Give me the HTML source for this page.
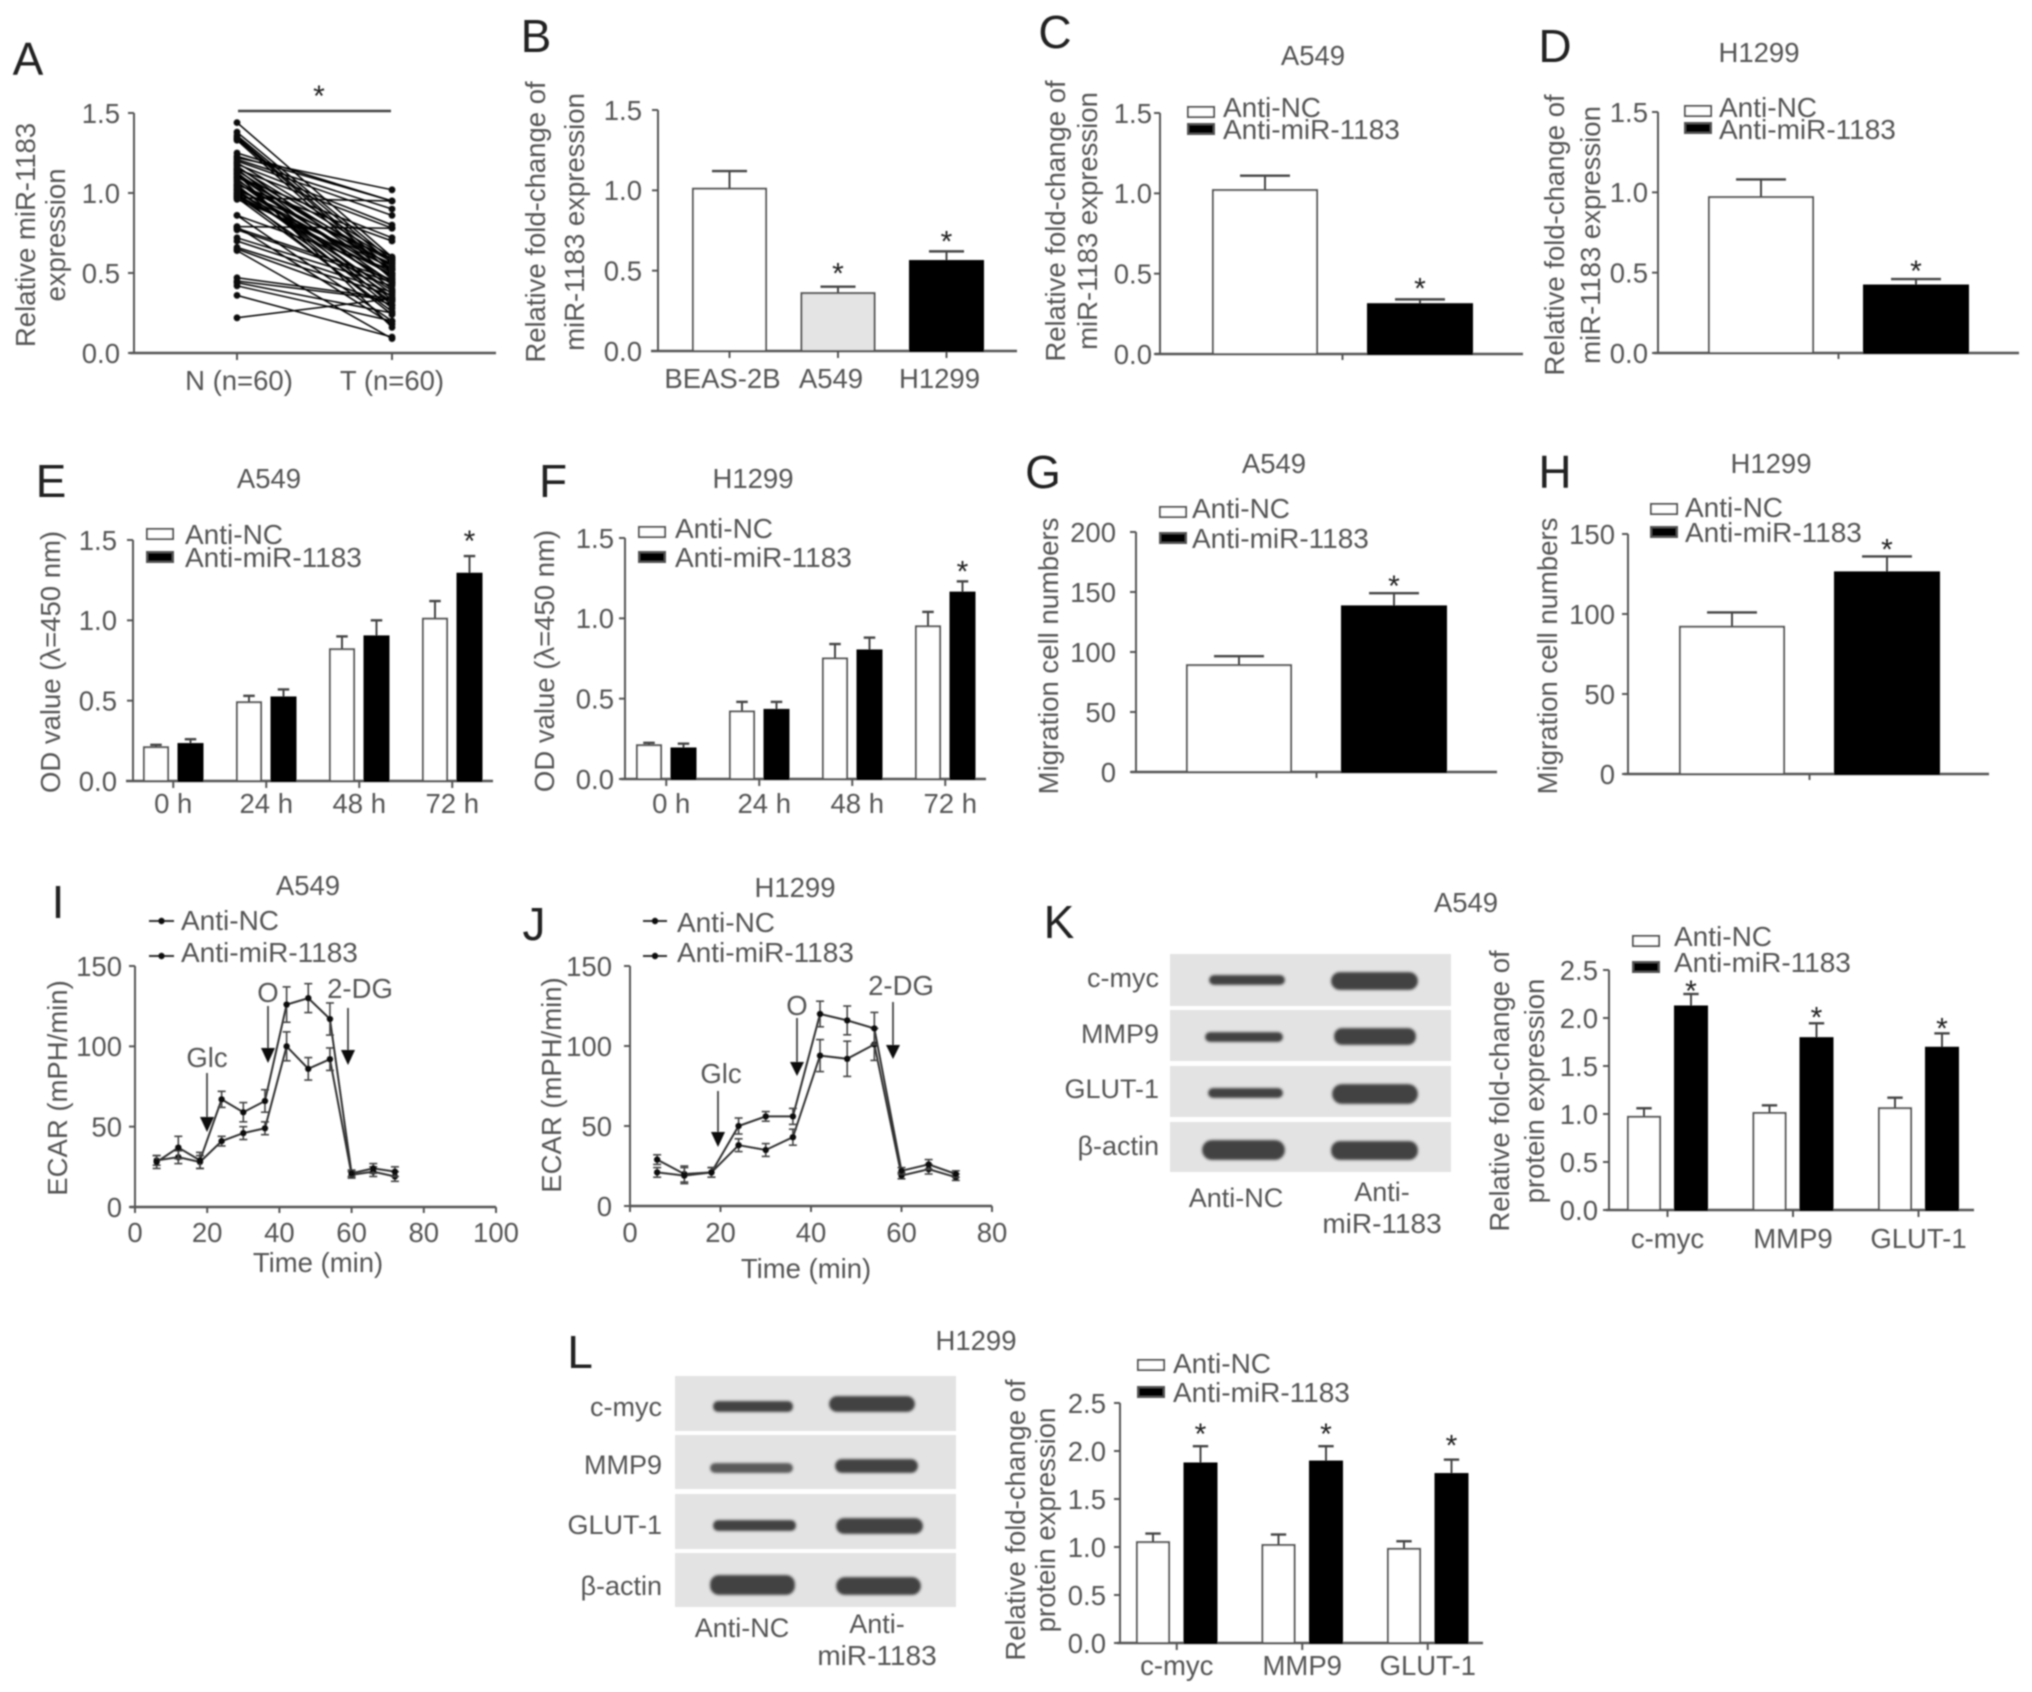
<!DOCTYPE html>
<html lang="en">
<head>
<meta charset="utf-8">
<title>miR-1183 expression figure</title>
<style>
html,body{margin:0;padding:0;background:#fff;}
svg{display:block;font-family:"Liberation Sans",sans-serif;}
</style>
</head>
<body>
<svg id="figure" xmlns="http://www.w3.org/2000/svg" width="2032" height="1692" viewBox="0 0 2032 1692">
  <defs>
    <filter id="soft" x="-2%" y="-2%" width="104%" height="104%"><feGaussianBlur stdDeviation="0.9"/></filter>
    <filter id="band" x="-20%" y="-60%" width="140%" height="220%"><feGaussianBlur stdDeviation="1.2"/></filter>
  </defs>
  <rect width="2032" height="1692" fill="#fff"/>
  <g id="root" filter="url(#soft)">
    <g fill="#e3e3e3">
      <rect x="1170" y="954" width="281" height="52"/>
      <rect x="1170" y="1010" width="281" height="51"/>
      <rect x="1170" y="1066" width="281" height="51"/>
      <rect x="1170" y="1122" width="281" height="50"/>
    </g>
    <g fill="#434343" filter="url(#band)">
      <rect x="1209" y="975" width="76" height="10" rx="5"/>
      <rect x="1331" y="972" width="87" height="18" rx="9"/>
      <rect x="1205" y="1032" width="78" height="10" rx="5"/>
      <rect x="1334" y="1028" width="82" height="17" rx="8"/>
      <rect x="1208" y="1088" width="75" height="10" rx="5"/>
      <rect x="1332" y="1084" width="86" height="20" rx="10"/>
      <rect x="1202" y="1140" width="83" height="20" rx="10"/>
      <rect x="1331" y="1141" width="87" height="19" rx="9"/>
    </g>
    <g font-size="27" fill="#555">
      <text x="1159" y="987" text-anchor="end">c-myc</text>
      <text x="1159" y="1043" text-anchor="end">MMP9</text>
      <text x="1159" y="1098" text-anchor="end">GLUT-1</text>
      <text x="1159" y="1155" text-anchor="end">β-actin</text>
      <text x="1236" y="1207" text-anchor="middle">Anti-NC</text>
      <text x="1382" y="1201" text-anchor="middle">Anti-</text>
      <text x="1382" y="1233" text-anchor="middle" font-size="28">miR-1183</text>
    </g>
    <g fill="#e3e3e3">
      <rect x="675" y="1376" width="281" height="55"/>
      <rect x="675" y="1435" width="281" height="54"/>
      <rect x="675" y="1494" width="281" height="55"/>
      <rect x="675" y="1553" width="281" height="54"/>
    </g>
    <g fill="#434343" filter="url(#band)">
      <rect x="713" y="1401" width="80" height="11" rx="5"/>
      <rect x="829" y="1396" width="86" height="16" rx="8"/>
      <rect x="710" y="1463" width="83" height="10" rx="5" fill="#5a5a5a"/>
      <rect x="835" y="1459" width="83" height="14" rx="7"/>
      <rect x="713" y="1520" width="83" height="11" rx="5"/>
      <rect x="836" y="1518" width="87" height="16" rx="8"/>
      <rect x="710" y="1575" width="85" height="20" rx="9"/>
      <rect x="836" y="1577" width="85" height="18" rx="9"/>
    </g>
    <g font-size="27" fill="#555">
      <text x="662" y="1416" text-anchor="end">c-myc</text>
      <text x="662" y="1474" text-anchor="end">MMP9</text>
      <text x="662" y="1534" text-anchor="end">GLUT-1</text>
      <text x="662" y="1595" text-anchor="end">β-actin</text>
      <text x="742" y="1637" text-anchor="middle">Anti-NC</text>
      <text x="877" y="1633" text-anchor="middle">Anti-</text>
      <text x="877" y="1665" text-anchor="middle" font-size="28">miR-1183</text>
    </g>
  </g>
</svg>
<script>
// ---------- Panel A data ----------
const panelACategories = ['N (n=60)', 'T (n=60)'];
const panelANormal = [1.44,1.38,1.36,1.35,1.34,1.33,1.25,1.23,1.22,1.21,1.2,1.19,1.18,1.17,1.16,1.15,1.15,1.14,1.13,1.12,1.11,1.1,1.1,1.09,1.08,1.07,1.06,1.05,1.05,1.04,1.03,1.02,1.02,1.01,1.0,1.0,.99,.98,.98,.97,.97,.96,.86,.86,.79,.79,.78,.77,.72,.70,.66,.65,.64,.47,.45,.44,.42,.36,.22,1.12];
const panelATumor = [.60,.58,.56,.52,.50,.46,.95,.95,1.02,.90,.86,.60,.80,.47,.58,.78,.40,.54,.33,.52,.44,.72,.57,.30,.48,.37,.55,.28,.70,.43,.50,.35,.59,.39,.24,.53,.45,.32,.49,.26,.95,.56,.52,.20,.78,.18,.46,.44,.42,.38,.36,.30,.09,.34,.33,.25,.2,.1,.34,.16];
const fractionTicks = [0, 0.5, 1, 1.5];
const fractionTickLabels = ['0.0', '0.5', '1.0', '1.5'];
const proteinTicks = [0, 0.5, 1, 1.5, 2, 2.5];
const proteinTickLabels = ['0.0', '0.5', '1.0', '1.5', '2.0', '2.5'];

// ---------- Panel B ----------
const panelBCategories = ['BEAS-2B', 'A549', 'H1299'];
const panelBValues = [1.01, 0.36, 0.56];
const panelBErrors = [0.11, 0.04, 0.06];
// ---------- Panel C ----------
const panelCValues = [1.02, 0.31];
const panelCErrors = [0.09, 0.03];
// ---------- Panel D ----------
const panelDValues = [0.97, 0.42];
const panelDErrors = [0.11, 0.04];
// ---------- Panels E, F ----------
const timeCategories = ['0 h', '24 h', '48 h', '72 h'];
const panelENC = [0.21, 0.49, 0.82, 1.01];
const panelENCErrors = [0.015, 0.04, 0.08, 0.11];
const panelEMir = [0.23, 0.52, 0.90, 1.29];
const panelEMirErrors = [0.03, 0.05, 0.10, 0.11];
const panelFNC = [0.21, 0.42, 0.75, 0.95];
const panelFNCErrors = [0.015, 0.06, 0.09, 0.09];
const panelFMir = [0.19, 0.43, 0.80, 1.16];
const panelFMirErrors = [0.03, 0.05, 0.08, 0.07];
// ---------- Panels G, H ----------
const panelGValues = [89, 138];
const panelGErrors = [7.5, 11];
const panelGTicks = [0, 50, 100, 150, 200];
const panelGTickLabels = ['0', '50', '100', '150', '200'];
const panelHValues = [92, 126];
const panelHErrors = [9, 10];
const panelHTicks = [0, 50, 100, 150];
const panelHTickLabels = ['0', '50', '100', '150'];
// ---------- Panels I, J ----------
const ecarTimes = [6, 12, 18, 24, 30, 36, 42, 48, 54, 60, 66, 72];
const ecarYTicks = [0, 50, 100, 150];
const panelINC = [29, 31, 28, 41, 46, 49, 100, 86, 92, 20, 22, 19];
const panelINCErrors = [3, 4, 4, 3, 4, 4, 9, 7, 7, 2, 3, 3];
const panelIMir = [28, 37, 29, 67, 59, 66, 126, 130, 117, 21, 24, 22];
const panelIMirErrors = [4, 7, 5, 5, 6, 7, 11, 9, 10, 2, 3, 3];
const panelIXTicks = [0, 20, 40, 60, 80, 100];
const panelJNC = [29, 20, 21, 38, 35, 43, 94, 92, 101, 19, 23, 18];
const panelJNCErrors = [3, 5, 3, 4, 4, 5, 10, 11, 10, 2, 3, 2];
const panelJMir = [21, 19, 21, 50, 56, 56, 120, 116, 111, 22, 26, 20];
const panelJMirErrors = [3, 5, 3, 5, 3, 5, 8, 9, 10, 2, 3, 2];
const panelJXTicks = [0, 20, 40, 60, 80];
// ---------- Panels K, L ----------
const proteinCategories = ['c-myc', 'MMP9', 'GLUT-1'];
const panelKNC = [0.97, 1.01, 1.06];
const panelKNCErrors = [0.09, 0.08, 0.11];
const panelKMir = [2.12, 1.79, 1.69];
const panelKMirErrors = [0.13, 0.155, 0.15];
const panelLNC = [1.05, 1.02, 0.98];
const panelLNCErrors = [0.09, 0.11, 0.08];
const panelLMir = [1.87, 1.89, 1.76];
const panelLMirErrors = [0.18, 0.16, 0.15];

const SVGNS = 'http://www.w3.org/2000/svg';
const root = document.getElementById('root');
const AXIS = '#555';
const TEXT = '#555';
const FONT = 27.5;

function shape(parent, tag, attrs, name) {
  const el = document.createElementNS(SVGNS, tag);
  for (const k in attrs) el.setAttribute(k, attrs[k]);
  
  
  parent.appendChild(el);
  return el;
}
function group(name) {
  const g = document.createElementNS(SVGNS, 'g');
  
  
  root.appendChild(g);
  return g;
}
function label(parent, str, x, yc, name, o) {
  o = o || {};
  const size = o.size || FONT;
  const off = size * 0.36;
  const attrs = {'font-size': size, fill: o.fill || TEXT, 'text-anchor': o.anchor || 'middle'};
  if (o.rotate) {
    attrs.x = x + off; attrs.y = yc;
    attrs.transform = 'rotate(-90 ' + (x + off) + ' ' + yc + ')';
  } else {
    attrs.x = x; attrs.y = yc + off;
  }
  const el = shape(parent, 'text', attrs, name);
  el.textContent = str;
  return el;
}
function panelLetter(str, x, capBottom) {
  const el = shape(root, 'text', {x: x, y: capBottom, 'font-size': 46, fill: '#222', 'text-anchor': 'middle'}, 'panel-letter-' + str.toLowerCase());
  el.textContent = str;
}
function star(parent, x, yc, name) {
  const el = shape(parent, 'text', {x: x, y: yc + 17, 'font-size': 30, fill: '#222', 'text-anchor': 'middle'}, name);
  el.textContent = '*';
}
function legendSwatch(g, x, yc, fill, text, textX, textY) {
  shape(g, 'rect', {x: x, y: yc - 5, width: 26, height: 10, fill: fill, stroke: '#555', 'stroke-width': 2}, 'legend-swatch-' + text.toLowerCase());
  label(g, text, textX, textY, 'legend-label-' + text.toLowerCase(), {anchor: 'start', size: 28});
}
function yAxis(g, p, yS) {
  shape(g, 'line', {x1: p.axisX, x2: p.axisX, y1: p.yTop, y2: p.y0, stroke: AXIS, 'stroke-width': 2}, 'y-axis-line');
  p.ticks.forEach(function (t, i) {
    shape(g, 'line', {x1: p.axisX - 6, x2: p.axisX, y1: yS(t), y2: yS(t), stroke: AXIS, 'stroke-width': 2}, 'y-tick');
    label(g, p.tickLabels[i], p.labelRight, yS(t), 'y-tick-label', {anchor: 'end'});
  });
  shape(g, 'line', {x1: p.xStart, x2: p.xEnd, y1: p.y0, y2: p.y0, stroke: AXIS, 'stroke-width': 2.4}, 'x-axis-line');
}
function yTitle(g, lines) {
  lines.forEach(function (l) {
    label(g, l[0], l[1], l[2], 'y-axis-title', {rotate: true});
  });
}

// Bar chart: series = [{values, errors, fills}]
function barPanel(p) {
  const g = group(p.name);
  const yS = function (v) { return p.y0 - v / p.max * (p.y0 - p.yTop); };
  const bx = function (i, j) { return p.barLeft + i * p.step + j * p.offset; };
  yAxis(g, p, yS);
  const n = p.series.length;
  const cats = p.series[0].values.length;
  const groupCenter = function (i) { return p.barLeft + i * p.step + (p.offset * (n - 1) + p.barWidth) / 2; };
  if (p.singleTick) {
    const mid = (groupCenter(0) + groupCenter(cats - 1)) / 2;
    shape(g, 'line', {x1: mid, x2: mid, y1: p.y0, y2: p.y0 + 6, stroke: AXIS, 'stroke-width': 2}, 'x-tick');
  } else {
    for (let i = 0; i < cats; i++) {
      shape(g, 'line', {x1: groupCenter(i), x2: groupCenter(i), y1: p.y0, y2: p.y0 + 7, stroke: AXIS, 'stroke-width': 2}, 'x-tick');
      label(g, p.categories[i], groupCenter(i) + (p.labelShift || 0), p.catY, 'x-tick-label');
    }
  }
  p.series.forEach(function (s, j) {
    s.values.forEach(function (v, i) {
      const cx = bx(i, j) + p.barWidth / 2;
      const top = yS(v + s.errors[i]);
      const cap = p.barWidth * 0.48;
      shape(g, 'line', {x1: cx, x2: cx, y1: yS(v), y2: top, stroke: '#444', 'stroke-width': 2}, 'error-bar');
      shape(g, 'line', {x1: cx - cap / 2, x2: cx + cap / 2, y1: top, y2: top, stroke: '#444', 'stroke-width': 2.4}, 'error-cap');
      shape(g, 'rect', {x: bx(i, j), y: yS(v), width: p.barWidth, height: p.y0 - yS(v), fill: s.fills[i], stroke: s.fills[i] === '#000' ? '#000' : '#555', 'stroke-width': 2}, 'bar');
    });
  });
  (p.stars || []).forEach(function (st) {
    const s = p.series[st[1]];
    star(g, bx(st[0], st[1]) + p.barWidth / 2, yS(s.values[st[0]] + s.errors[st[0]]) - st[2], 'significance-star');
  });
  if (p.title) label(g, p.title[0], p.title[1], p.title[2], 'panel-title');
  yTitle(g, p.yTitle);
  if (p.legend) {
    const L = p.legend;
    legendSwatch(g, L.swatchX, L.swatch1, '#fff', 'Anti-NC', L.textX, L.text1);
    legendSwatch(g, L.swatchX, L.swatch2, '#000', 'Anti-miR-1183', L.textX, L.text2);
  }
}

function arrow(g, str, textX, textY, x, yStart, yHead, yTip) {
  label(g, str, textX, textY, 'treatment-label');
  shape(g, 'line', {x1: x, x2: x, y1: yStart, y2: yHead, stroke: '#444', 'stroke-width': 1.8}, 'treatment-arrow-shaft');
  shape(g, 'polygon', {points: (x - 7) + ',' + yHead + ' ' + (x + 7) + ',' + yHead + ' ' + x + ',' + yTip, fill: '#111'}, 'treatment-arrow-head');
}

function linePanel(p) {
  const g = group(p.name);
  const yS = function (v) { return p.y0 - v / p.max * (p.y0 - p.yTop); };
  const xS = function (t) { return p.axisX + t * p.xUnit; };
  yAxis(g, p, yS);
  p.xTicks.forEach(function (t) {
    shape(g, 'line', {x1: xS(t), x2: xS(t), y1: p.y0, y2: p.y0 + 6, stroke: AXIS, 'stroke-width': 2}, 'x-tick');
    label(g, String(t), xS(t), p.catY, 'x-tick-label');
  });
  p.series.forEach(function (s) {
    const pts = ecarTimes.map(function (t, i) { return xS(t) + ',' + yS(s.values[i]); }).join(' ');
    shape(g, 'polyline', {points: pts, fill: 'none', stroke: '#333', 'stroke-width': 2}, 'series-line-' + s.id);
    ecarTimes.forEach(function (t, i) {
      const hi = yS(s.values[i] + s.errors[i]);
      const lo = yS(s.values[i] - s.errors[i]);
      shape(g, 'line', {x1: xS(t), x2: xS(t), y1: hi, y2: lo, stroke: '#444', 'stroke-width': 1.6}, 'error-bar');
      shape(g, 'line', {x1: xS(t) - 4, x2: xS(t) + 4, y1: hi, y2: hi, stroke: '#444', 'stroke-width': 1.6}, 'error-cap');
      shape(g, 'line', {x1: xS(t) - 4, x2: xS(t) + 4, y1: lo, y2: lo, stroke: '#444', 'stroke-width': 1.6}, 'error-cap');
      shape(g, 'circle', {cx: xS(t), cy: yS(s.values[i]), r: 3.2, fill: '#111'}, 'series-point-' + s.id);
    });
  });
  label(g, p.title[0], p.title[1], p.title[2], 'panel-title');
  label(g, 'Time (min)', p.xTitle[0], p.xTitle[1], 'x-axis-title');
  yTitle(g, p.yTitle);
  const L = p.legend;
  [['Anti-NC', L.y1, L.t1], ['Anti-miR-1183', L.y2, L.t2]].forEach(function (e) {
    shape(g, 'line', {x1: L.x1, x2: L.x2, y1: e[1], y2: e[1], stroke: '#333', 'stroke-width': 2}, 'legend-line');
    shape(g, 'circle', {cx: (L.x1 + L.x2) / 2, cy: e[1], r: 3.2, fill: '#111'}, 'legend-marker');
    label(g, e[0], L.textX, e[2], 'legend-label', {anchor: 'start', size: 28});
  });
  p.arrows.forEach(function (a) { arrow(g, a[0], a[1], a[2], a[3], a[4], a[5], a[6]); });
}

// Panel A: paired dot-and-line plot
(function () {
  const p = {axisX: 134, y0: 353, yTop: 113, max: 1.5, xStart: 130, xEnd: 496, labelRight: 120, ticks: fractionTicks, tickLabels: fractionTickLabels};
  const g = group('panel-a');
  const yS = function (v) { return p.y0 - v / p.max * (p.y0 - p.yTop); };
  const xS = function (i) { return 237 + i * 155; };
  yAxis(g, p, yS);
  panelACategories.forEach(function (c, i) {
    shape(g, 'line', {x1: xS(i), x2: xS(i), y1: p.y0, y2: p.y0 + 7, stroke: AXIS, 'stroke-width': 2}, 'x-tick');
    label(g, c, xS(i) + (i ? 0 : 2), 380, 'x-tick-label');
  });
  panelANormal.forEach(function (v, i) {
    shape(g, 'line', {x1: xS(0), x2: xS(1), y1: yS(v), y2: yS(panelATumor[i]), stroke: '#000', 'stroke-width': 1.5}, 'paired-line');
    shape(g, 'circle', {cx: xS(0), cy: yS(v), r: 3.4, fill: '#111'}, 'normal-point');
    shape(g, 'circle', {cx: xS(1), cy: yS(panelATumor[i]), r: 3.4, fill: '#111'}, 'tumor-point');
  });
  shape(g, 'line', {x1: 238, x2: 391, y1: 111, y2: 111, stroke: '#444', 'stroke-width': 2.4}, 'significance-bracket');
  star(g, 319, 89, 'significance-star');
  yTitle(g, [['Relative miR-1183', 25, 235], ['expression', 55, 235]]);
})();

barPanel({name: 'panel-b', axisX: 658, y0: 351, yTop: 110, max: 1.5, xStart: 651, xEnd: 1017, labelRight: 642,
  ticks: fractionTicks, tickLabels: fractionTickLabels, categories: panelBCategories, catY: 378, labelShift: -7,
  barLeft: 693, step: 108.5, offset: 0, barWidth: 73,
  series: [{values: panelBValues, errors: panelBErrors, fills: ['#fff', '#e4e4e4', '#000']}],
  stars: [[1, 0, 20], [2, 0, 17]],
  yTitle: [['Relative fold-change of', 535, 222], ['miR-1183 expression', 574, 222]]});

barPanel({name: 'panel-c', axisX: 1160, y0: 354, yTop: 113, max: 1.5, xStart: 1155, xEnd: 1523, labelRight: 1152,
  ticks: fractionTicks, tickLabels: fractionTickLabels, singleTick: true,
  barLeft: 1213, step: 155, offset: 0, barWidth: 104,
  series: [{values: panelCValues, errors: panelCErrors, fills: ['#fff', '#000']}],
  stars: [[1, 0, 18]], title: ['A549', 1313, 55],
  yTitle: [['Relative fold-change of', 1055, 221], ['miR-1183 expression', 1087, 221]],
  legend: {swatchX: 1188, swatch1: 112, swatch2: 129, textX: 1223, text1: 107, text2: 129}});

barPanel({name: 'panel-d', axisX: 1658, y0: 353, yTop: 112, max: 1.5, xStart: 1654, xEnd: 2019, labelRight: 1648,
  ticks: fractionTicks, tickLabels: fractionTickLabels, singleTick: true,
  barLeft: 1709, step: 155, offset: 0, barWidth: 104,
  series: [{values: panelDValues, errors: panelDErrors, fills: ['#fff', '#000']}],
  stars: [[1, 0, 15]], title: ['H1299', 1759, 52],
  yTitle: [['Relative fold-change of', 1554, 235], ['miR-1183 expression', 1590, 235]],
  legend: {swatchX: 1685, swatch1: 111, swatch2: 128, textX: 1719, text1: 107, text2: 129}});

barPanel({name: 'panel-e', axisX: 133, y0: 781, yTop: 540, max: 1.5, xStart: 126, xEnd: 493, labelRight: 117,
  ticks: fractionTicks, tickLabels: fractionTickLabels, categories: timeCategories, catY: 803,
  barLeft: 144, step: 93, offset: 34.5, barWidth: 24,
  series: [{values: panelENC, errors: panelENCErrors, fills: ['#fff', '#fff', '#fff', '#fff']},
           {values: panelEMir, errors: panelEMirErrors, fills: ['#000', '#000', '#000', '#000']}],
  stars: [[3, 1, 22]], title: ['A549', 269, 478],
  yTitle: [['OD value (λ=450 nm)', 50, 662]],
  legend: {swatchX: 147, swatch1: 534, swatch2: 557, textX: 185, text1: 534, text2: 557}});

barPanel({name: 'panel-f', axisX: 625, y0: 779, yTop: 538, max: 1.5, xStart: 621, xEnd: 986, labelRight: 614,
  ticks: fractionTicks, tickLabels: fractionTickLabels, categories: timeCategories, catY: 803, labelShift: 5,
  barLeft: 637, step: 93, offset: 34.5, barWidth: 24,
  series: [{values: panelFNC, errors: panelFNCErrors, fills: ['#fff', '#fff', '#fff', '#fff']},
           {values: panelFMir, errors: panelFMirErrors, fills: ['#000', '#000', '#000', '#000']}],
  stars: [[3, 1, 17]], title: ['H1299', 753, 478],
  yTitle: [['OD value (λ=450 nm)', 544, 661]],
  legend: {swatchX: 639, swatch1: 532, swatch2: 557, textX: 675, text1: 528, text2: 557}});

barPanel({name: 'panel-g', axisX: 1136, y0: 772, yTop: 532, max: 200, xStart: 1131, xEnd: 1497, labelRight: 1116,
  ticks: panelGTicks, tickLabels: panelGTickLabels, singleTick: true,
  barLeft: 1187, step: 155, offset: 0, barWidth: 104,
  series: [{values: panelGValues, errors: panelGErrors, fills: ['#fff', '#000']}],
  stars: [[1, 0, 14]], title: ['A549', 1274, 463],
  yTitle: [['Migration cell numbers', 1048, 656]],
  legend: {swatchX: 1160, swatch1: 512, swatch2: 538, textX: 1192, text1: 508, text2: 538}});

barPanel({name: 'panel-h', axisX: 1628, y0: 774, yTop: 534, max: 150, xStart: 1624, xEnd: 1989, labelRight: 1615,
  ticks: panelHTicks, tickLabels: panelHTickLabels, singleTick: true,
  barLeft: 1680, step: 155, offset: 0, barWidth: 104,
  series: [{values: panelHValues, errors: panelHErrors, fills: ['#fff', '#000']}],
  stars: [[1, 0, 14]], title: ['H1299', 1771, 463],
  yTitle: [['Migration cell numbers', 1547, 656]],
  legend: {swatchX: 1651, swatch1: 509, swatch2: 532, textX: 1685, text1: 507, text2: 532}});

linePanel({name: 'panel-i', axisX: 135, y0: 1207, yTop: 966, max: 150, xStart: 130, xEnd: 496, labelRight: 122,
  ticks: ecarYTicks, tickLabels: ecarYTicks.map(String), xUnit: 3.61, xTicks: panelIXTicks, catY: 1232,
  series: [{id: 'anti-nc', values: panelINC, errors: panelINCErrors}, {id: 'anti-mir-1183', values: panelIMir, errors: panelIMirErrors}],
  title: ['A549', 308, 885], xTitle: [318, 1262], yTitle: [['ECAR (mPH/min)', 57, 1088]],
  legend: {x1: 149, x2: 174, y1: 921, y2: 956, t1: 920, t2: 952, textX: 181},
  arrows: [['Glc', 207, 1057, 207, 1073, 1117, 1132], ['O', 268, 992, 268, 1006, 1048, 1063], ['2-DG', 360, 988, 348, 1008, 1050, 1065]]});

linePanel({name: 'panel-j', axisX: 630, y0: 1206, yTop: 966, max: 150, xStart: 630, xEnd: 992, labelRight: 612,
  ticks: ecarYTicks, tickLabels: ecarYTicks.map(String), xUnit: 4.525, xTicks: panelJXTicks, catY: 1232,
  series: [{id: 'anti-nc', values: panelJNC, errors: panelJNCErrors}, {id: 'anti-mir-1183', values: panelJMir, errors: panelJMirErrors}],
  title: ['H1299', 795, 887], xTitle: [806, 1268], yTitle: [['ECAR (mPH/min)', 551, 1085]],
  legend: {x1: 643, x2: 667, y1: 921, y2: 956, t1: 922, t2: 952, textX: 677},
  arrows: [['Glc', 721, 1073, 718, 1091, 1132, 1147], ['O', 797, 1005, 797, 1018, 1062, 1076], ['2-DG', 901, 985, 893, 1002, 1045, 1059]]});
label(root, 'A549', 1466, 902, 'panel-k-title');
label(root, 'H1299', 976, 1340, 'panel-l-title');

barPanel({name: 'panel-k-chart', axisX: 1609, y0: 1210, yTop: 970, max: 2.5, xStart: 1606, xEnd: 1974, labelRight: 1598,
  ticks: proteinTicks, tickLabels: proteinTickLabels, categories: proteinCategories, catY: 1238,
  barLeft: 1628, step: 125.5, offset: 47, barWidth: 32,
  series: [{values: panelKNC, errors: panelKNCErrors, fills: ['#fff', '#fff', '#fff']},
           {values: panelKMir, errors: panelKMirErrors, fills: ['#000', '#000', '#000']}],
  stars: [[0, 1, 10], [1, 1, 13], [2, 1, 12]],
  yTitle: [['Relative fold-change of', 1499, 1091], ['protein expression', 1534, 1091]],
  legend: {swatchX: 1633, swatch1: 941, swatch2: 967, textX: 1674, text1: 936, text2: 962}});

barPanel({name: 'panel-l-chart', axisX: 1120, y0: 1643, yTop: 1403, max: 2.5, xStart: 1117, xEnd: 1483, labelRight: 1106,
  ticks: proteinTicks, tickLabels: proteinTickLabels, categories: proteinCategories, catY: 1665,
  barLeft: 1137, step: 125.5, offset: 47.5, barWidth: 32,
  series: [{values: panelLNC, errors: panelLNCErrors, fills: ['#fff', '#fff', '#fff']},
           {values: panelLMir, errors: panelLMirErrors, fills: ['#000', '#000', '#000']}],
  stars: [[0, 1, 19], [1, 1, 19], [2, 1, 21]],
  yTitle: [['Relative fold-change of', 1015, 1520], ['protein expression', 1045, 1520]],
  legend: {swatchX: 1138, swatch1: 1365, swatch2: 1392, textX: 1173, text1: 1363, text2: 1392}});

panelLetter('A', 28, 75);
panelLetter('B', 536, 52);
panelLetter('C', 1055, 48);
panelLetter('D', 1555, 62);
panelLetter('E', 51, 497);
panelLetter('F', 553, 497);
panelLetter('G', 1043, 488);
panelLetter('H', 1555, 488);
panelLetter('I', 58, 918);
panelLetter('J', 534, 940);
panelLetter('K', 1059, 938);
panelLetter('L', 580, 1368);
</script>
</body>
</html>
